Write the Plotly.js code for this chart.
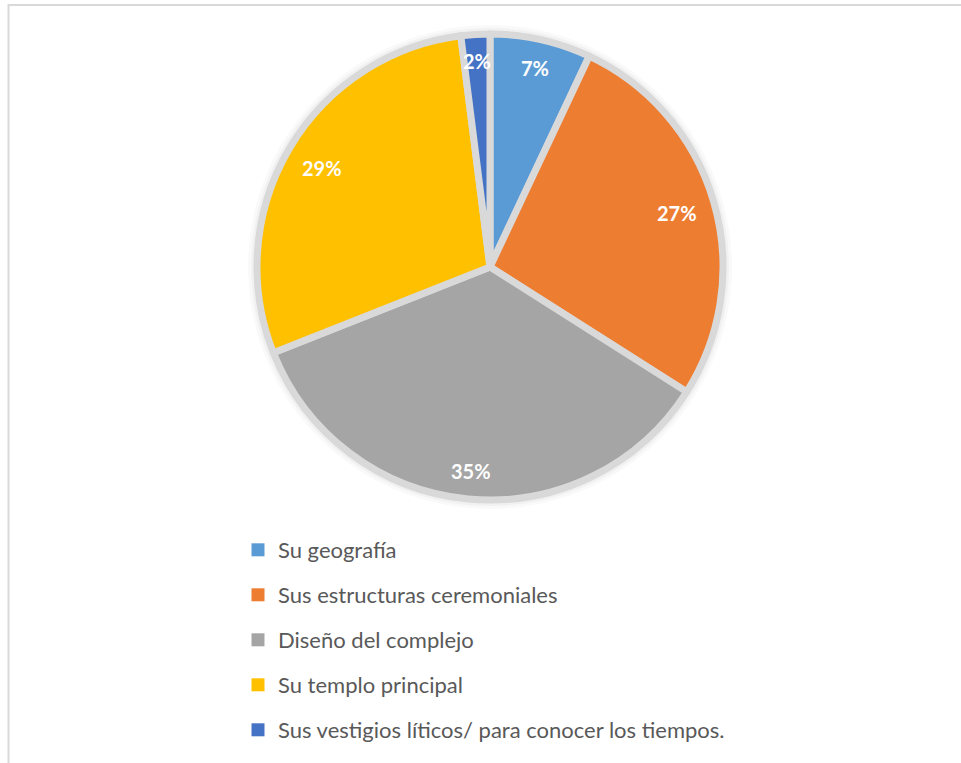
<!DOCTYPE html>
<html><head><meta charset="utf-8">
<script src="https://cdn.plot.ly/plotly-3.0.1.min.js"></script>
<style>html,body{margin:0;padding:0;background:#fff}#chart{width:961px;height:763px}</style>
</head><body><div id="chart"></div>
<script>
const categories = ["Su geografía","Sus estructuras ceremoniales","Diseño del complejo","Su templo principal","Sus vestigios líticos/ para conocer los tiempos."];
const values = [7, 27, 35, 29, 2];
const colors = ["#5B9BD5","#ED7D31","#A5A5A5","#FFC000","#4472C4"];

const W = 961, H = 763;
const cx = 490, cy = 267, r = 233;
const px = v => v / W, py = v => 1 - v / H;
const labelSize = 20;

const traces = [{
  type: 'pie', labels: categories, values: values, sort: false,
  direction: 'clockwise', rotation: 0,
  marker: {colors: colors, line: {color: '#d9d9d9', width: 7}},
  textinfo: 'none',
  domain: {x: [px(cx - r), px(cx + r)], y: [py(cy + r), py(cy - r)]},
  showlegend: false, hoverinfo: 'label+percent'
}];
categories.forEach((c, i) => traces.push({
  type: 'scatter', mode: 'markers', x: [null], y: [null], name: c,
  legendgroup: 'g' + i, showlegend: true, hoverinfo: 'skip',
  marker: {symbol: 'square', size: 13, color: colors[i]}
}));

// percentage labels placed near the outer edge of each slice (computed from the values)
const total = values.reduce((a, b) => a + b, 0);
const annotations = [];
let cum = 0;
values.forEach((v, i) => {
  const frac = v / total;
  const theta = (cum + frac / 2) * 2 * Math.PI;
  cum += frac;
  const txt = Math.round(frac * 100) + '%';
  const hw = 0.5 * labelSize * (0.58 * (txt.length - 1) + 0.82), hh = labelSize / 2;
  const inset = Math.abs(hw * Math.sin(theta)) + Math.abs(hh * Math.cos(theta)) + 16;
  const d = r - inset;
  annotations.push({
    xref: 'paper', yref: 'paper', x: px(cx + d * Math.sin(theta)), y: py(cy - d * Math.cos(theta)),
    xanchor: 'center', yanchor: 'middle', showarrow: false, text: txt,
    font: {family: 'Lato', size: labelSize, color: '#ffffff', weight: 'bold'}
  });
});

const shapes = [];
[[9, 0.025], [6, 0.03], [3, 0.04]].forEach(([d, o]) => shapes.push({
  type: 'circle', xref: 'paper', yref: 'paper', layer: 'below',
  x0: px(cx - r - d), x1: px(cx + r + d), y0: py(cy + r + d), y1: py(cy - r - d),
  fillcolor: 'rgba(0,0,0,' + o + ')', line: {width: 0}
}));
shapes.push({type: 'rect', xref: 'paper', yref: 'paper', layer: 'above',
  x0: px(8.5), x1: px(980), y0: py(780), y1: py(5), line: {color: '#d9d9d9', width: 2}});

const layout = {
  width: W, height: H, margin: {l: 0, r: 0, t: 0, b: 0},
  paper_bgcolor: '#ffffff', plot_bgcolor: '#ffffff',
  xaxis: {visible: false}, yaxis: {visible: false},
  showlegend: true,
  legend: {x: px(238), xanchor: 'left', y: py(529), yanchor: 'top',
    orientation: 'v', tracegroupgap: 13.4, itemwidth: 30,
    font: {family: 'Lato', size: 22, color: '#595959'}, bgcolor: 'rgba(0,0,0,0)'},
  shapes: shapes, annotations: annotations
};
Plotly.newPlot('chart', traces, layout, {displayModeBar: false, staticPlot: true});
</script></body></html>
